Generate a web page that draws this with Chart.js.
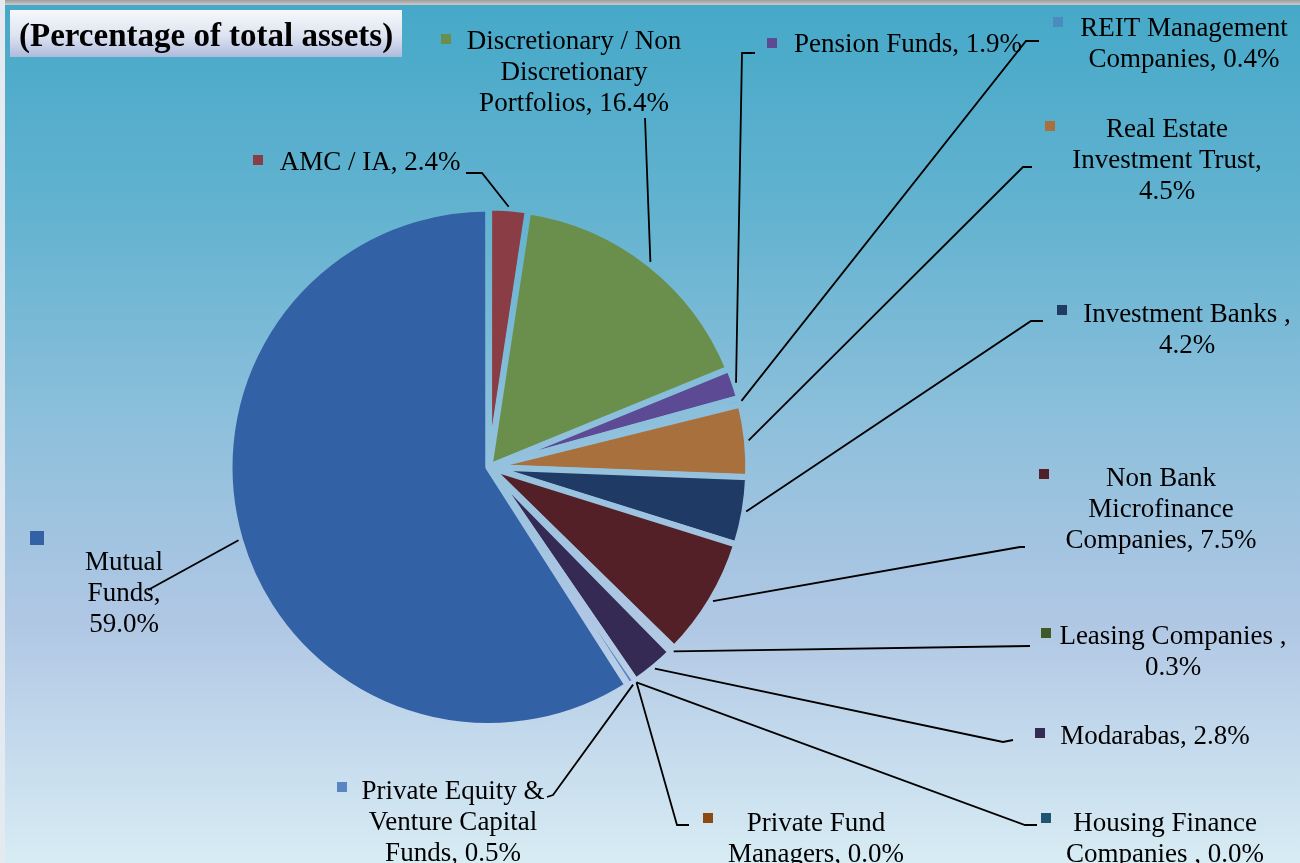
<!DOCTYPE html>
<html lang="en">
<head>
    <meta charset="UTF-8">
    <title>Percentage of total assets</title>
    <style>
        html, body { margin: 0; padding: 0; background: #ffffff; }
        canvas { display: block; }
    </style>
</head>
<body>
    <canvas id="pieChart" width="1300" height="863"></canvas>
    <script src="https://cdn.jsdelivr.net/npm/chart.js"></script>
    <script>
        // data, clockwise from 12 o'clock
        const categories = [
            'AMC / IA',
            'Discretionary / Non Discretionary Portfolios',
            'Pension Funds',
            'REIT Management Companies',
            'Real Estate Investment Trust',
            'Investment Banks',
            'Non Bank Microfinance Companies',
            'Leasing Companies',
            'Modarabas',
            'Housing Finance Companies',
            'Private Fund Managers',
            'Private Equity & Venture Capital Funds',
            'Mutual Funds'
        ];
        const shares = [2.4, 16.4, 1.9, 0.4, 4.5, 4.2, 7.5, 0.3, 2.8, 0.0, 0.0, 0.5, 59.0];
        const sliceColors = [
            '#8a3d45', '#6a8f4c', '#5c4a94', '#4a8cc0', '#a8703c', '#1f3a64', '#532027',
            '#3e5a28', '#342a54', '#1f5570', '#8a4a10', '#5a84c4', '#3361a5'
        ];
        // label text as it is broken into lines; {v} is the share
        const labelLines = [
            ['AMC / IA, {v}'],
            ['Discretionary / Non', 'Discretionary', 'Portfolios, {v}'],
            ['Pension Funds, {v}'],
            ['REIT Management', 'Companies, {v}'],
            ['Real Estate', 'Investment Trust,', '{v}'],
            ['Investment Banks ,', '{v}'],
            ['Non Bank', 'Microfinance', 'Companies, {v}'],
            ['Leasing Companies ,', '{v}'],
            ['Modarabas, {v}'],
            ['Housing Finance', 'Companies , {v}'],
            ['Private Fund', 'Managers, {v}'],
            ['Private Equity &', 'Venture Capital', 'Funds, {v}'],
            ['Mutual', 'Funds,', '{v}']
        ];

        // where each label sits: text centre x, first line y, legend square, leader line bends
        const labelLayout = [
            { cx: 370, y: 163, sq: [253, 155, 10], path: [[482, 173], [466, 173]] },
            { cx: 574, y: 42, sq: [441, 34, 10], path: [[645, 118]] },
            { cx: 908, y: 45, sq: [767, 38, 10], path: [[742, 53], [755, 53]] },
            { cx: 1184, y: 29, sq: [1053, 17, 10], path: [[1026, 41], [1039, 41]] },
            { cx: 1167, y: 130, sq: [1045, 121, 10], path: [[1023, 167], [1032, 167]] },
            { cx: 1187, y: 315, sq: [1057, 305, 10], path: [[1031, 321], [1043, 321]] },
            { cx: 1161, y: 479, sq: [1039, 469, 10], path: [[1020, 547], [1025, 547]] },
            { cx: 1173, y: 637, sq: [1041, 628, 10], path: [[1030, 646]] },
            { cx: 1155, y: 737, sq: [1035, 728, 10], path: [[1003, 742], [1013, 740]] },
            { cx: 1165, y: 824, sq: [1041, 813, 10], path: [[1025, 825], [1037, 825]] },
            { cx: 816, y: 824, sq: [703, 813, 10], path: [[677, 825], [689, 825]] },
            { cx: 453, y: 792, sq: [337, 782, 10], path: [[553, 795], [547, 797]] },
            { cx: 124, y: 563, sq: [30, 531, 14], path: [[148, 590]] }
        ];

        const canvas = document.getElementById('pieChart');
        const ctx = canvas.getContext('2d');

        const bgGradient = ctx.createLinearGradient(0, 0, 0, 863);
        bgGradient.addColorStop(0, '#45a8c8');
        bgGradient.addColorStop(0.25, '#63b3d0');
        bgGradient.addColorStop(0.5, '#8fc0dc');
        bgGradient.addColorStop(0.72, '#b0c7e4');
        bgGradient.addColorStop(1, '#d8ecf4');

        const LABEL_FONT = '27px "Liberation Serif", "Times New Roman", serif';
        const LINE_H = 31;

        const backgroundPlugin = {
            id: 'background',
            beforeDraw(chart) {
                const c = chart.ctx;
                c.save();
                c.fillStyle = bgGradient;
                c.fillRect(0, 0, chart.width, chart.height);
                // thin frame on top and left, as in the slide
                const top = c.createLinearGradient(0, 0, 0, 6);
                top.addColorStop(0, '#9c9c9c');
                top.addColorStop(1, '#d4d4d4');
                c.fillStyle = top;
                c.fillRect(0, 0, chart.width, 5);
                c.fillStyle = '#e4eaf0';
                c.fillRect(0, 0, 5, chart.height);
                c.restore();
            }
        };

        const labelsPlugin = {
            id: 'pieLabels',
            afterDatasetsDraw(chart) {
                const c = chart.ctx;
                const meta = chart.getDatasetMeta(0);
                c.save();

                // title box
                const tb = c.createLinearGradient(0, 10, 0, 57);
                tb.addColorStop(0, '#f6f8fb');
                tb.addColorStop(0.55, '#dde3f0');
                tb.addColorStop(1, '#aebbdd');
                c.fillStyle = tb;
                c.fillRect(10, 10, 392, 47);
                c.fillStyle = '#000';
                c.font = 'bold 33px "Liberation Serif", "Times New Roman", serif';
                c.textAlign = 'left';
                c.textBaseline = 'middle';
                c.fillText('(Percentage of total assets)', 19, 37);

                // leader lines
                c.strokeStyle = '#000';
                c.lineWidth = 1.8;
                meta.data.forEach((arc, i) => {
                    const p = arc.getProps(['x', 'y', 'startAngle', 'endAngle', 'outerRadius'], true);
                    const mid = (p.startAngle + p.endAngle) / 2;
                    const r = p.outerRadius + 3;
                    c.beginPath();
                    c.moveTo(p.x + Math.cos(mid) * r, p.y + Math.sin(mid) * r);
                    labelLayout[i].path.forEach(pt => c.lineTo(pt[0], pt[1]));
                    c.stroke();
                });

                // label texts and legend squares
                c.font = LABEL_FONT;
                c.textAlign = 'center';
                c.textBaseline = 'middle';
                labelLines.forEach((lines, i) => {
                    const lay = labelLayout[i];
                    const val = shares[i].toFixed(1) + '%';
                    c.fillStyle = sliceColors[i];
                    c.fillRect(lay.sq[0], lay.sq[1], lay.sq[2], lay.sq[2]);
                    c.fillStyle = '#000';
                    lines.forEach((ln, k) => {
                        c.fillText(ln.replace('{v}', val), lay.cx, lay.y + k * LINE_H);
                    });
                });
                c.restore();
            }
        };

        new Chart(ctx, {
            type: 'pie',
            data: {
                labels: categories,
                datasets: [{
                    data: shares,
                    backgroundColor: sliceColors,
                    borderColor: bgGradient,
                    borderWidth: 6,
                    offset: 3,
                    radius: 258
                }]
            },
            options: {
                responsive: false,
                animation: false,
                layout: { padding: { left: 100, right: 422, top: 140, bottom: 69 } },
                plugins: {
                    legend: { display: false },
                    tooltip: { enabled: false }
                }
            },
            plugins: [backgroundPlugin, labelsPlugin]
        });
    </script>
</body>
</html>
